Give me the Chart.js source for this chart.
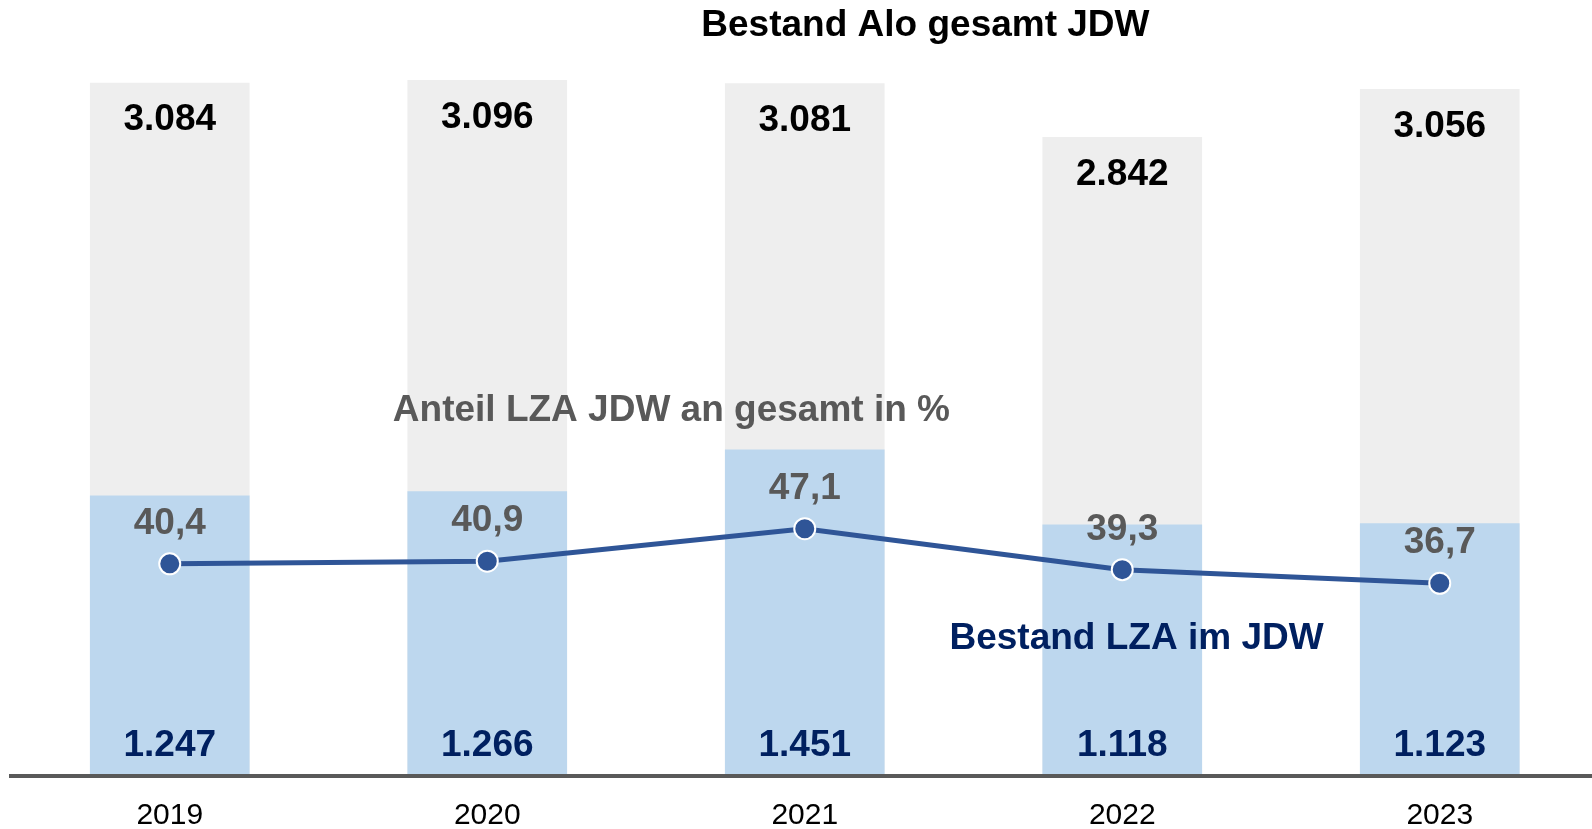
<!DOCTYPE html>
<html>
<head>
<meta charset="utf-8">
<title>Bestand Alo gesamt JDW</title>
<script src="https://cdn.jsdelivr.net/npm/chart.js@4.4.1/dist/chart.umd.min.js"></script>
<style>
    html, body { margin: 0; padding: 0; background: #fff; overflow: hidden; }
    #wrap { position: relative; width: 1592px; height: 829px; }
</style>
</head>
<body>
<div id="wrap"><canvas id="chart"></canvas></div>
<script>
// Bestand Alo gesamt vs. LZA, JDW 2019-2023

const years = ['2019', '2020', '2021', '2022', '2023'];
const totalAlo = [3084, 3096, 3081, 2842, 3056];
const lzaAlo = [1247, 1266, 1451, 1118, 1123];
const lzaShare = [40.4, 40.9, 47.1, 39.3, 36.7];

const FONT = "'Liberation Sans', Arial, Helvetica, sans-serif";
const GREY_BAR = '#EEEEEE';
const BLUE_BAR = '#BDD7EE';
const LINE_BLUE = '#2F5597';
const NAVY = '#002060';
const DARK_GREY = '#595959';

// German number formatting (3.084 / 40,4)
function fmtInt(v) {
    return String(v).replace(/\B(?=(\d{3})+(?!\d))/g, '.');
}
function fmtPct(v) {
    return v.toFixed(1).replace('.', ',');
}

function xy(values) {
    return values.map((v, i) => ({ x: i, y: v }));
}

// value labels on bars and line points
const valueLabels = {
    id: 'valueLabels',
    afterDatasetsDraw(chart) {
        const ctx = chart.ctx;
        const area = chart.chartArea;
        ctx.save();
        ctx.textAlign = 'center';
        ctx.textBaseline = 'middle';
        ctx.font = `bold 37px ${FONT}`;

        chart.getDatasetMeta(2).data.forEach((bar, i) => {
            ctx.fillStyle = '#000';
            ctx.fillText(fmtInt(totalAlo[i]), bar.x, bar.y + 37);
        });
        chart.getDatasetMeta(1).data.forEach((bar, i) => {
            ctx.fillStyle = NAVY;
            ctx.fillText(fmtInt(lzaAlo[i]), bar.x, area.bottom - 30);
        });
        chart.getDatasetMeta(0).data.forEach((pt, i) => {
            ctx.fillStyle = DARK_GREY;
            ctx.fillText(fmtPct(lzaShare[i]), pt.x, pt.y - 40);
        });
        ctx.restore();
    }
};

// title and series captions
const captions = {
    id: 'captions',
    afterDraw(chart) {
        const ctx = chart.ctx;
        const xs = chart.scales.x;
        ctx.save();
        ctx.textAlign = 'center';
        ctx.textBaseline = 'middle';

        ctx.font = `bold 37px ${FONT}`;
        ctx.fillStyle = '#000';
        ctx.fillText('Bestand Alo gesamt JDW', xs.getPixelForValue(2.38), 26);

        ctx.fillStyle = DARK_GREY;
        ctx.fillText('Anteil LZA JDW an gesamt in %', xs.getPixelForValue(1.58), 411);

        ctx.fillStyle = NAVY;
        ctx.fillText('Bestand LZA im JDW', xs.getPixelForValue(3.045), 639);
        ctx.restore();
    }
};

const ctx = document.getElementById('chart').getContext('2d');
const chart = new Chart(ctx, {
    data: {
        datasets: [
            {
                type: 'line',
                label: 'Anteil LZA JDW an gesamt in %',
                data: xy(lzaShare),
                yAxisID: 'pct',
                borderColor: LINE_BLUE,
                borderWidth: 5,
                pointRadius: 10.5,
                pointBackgroundColor: LINE_BLUE,
                pointBorderColor: '#fff',
                pointBorderWidth: 2,
                tension: 0,
                order: 0
            },
            {
                type: 'bar',
                label: 'Bestand LZA im JDW',
                data: xy(lzaAlo),
                backgroundColor: BLUE_BAR,
                grouped: false,
                barThickness: 159,
                order: 1
            },
            {
                type: 'bar',
                label: 'Bestand Alo gesamt JDW',
                data: xy(totalAlo),
                backgroundColor: GREY_BAR,
                grouped: false,
                barThickness: 159,
                order: 2
            }
        ]
    },
    options: {
        animation: false,
        responsive: true,
        maintainAspectRatio: false,
        layout: {
            autoPadding: false,
            padding: { top: 12, left: 11, right: 0, bottom: 0 }
        },
        plugins: {
            legend: { display: false },
            title: { display: false },
            tooltip: { enabled: false }
        },
        scales: {
            x: {
                type: 'linear',
                offset: false,
                bounds: 'data',
                min: -0.5,
                max: 4.4795,
                afterBuildTicks: axis => {
                    axis.ticks = years.map((_, i) => ({ value: i }));
                },
                afterFit: axis => {
                    axis.height = 53;
                },
                grid: { display: false, drawTicks: false, offset: false },
                border: { display: true, color: DARK_GREY, width: 4, z: 1 },
                ticks: {
                    color: '#000',
                    padding: 25,
                    maxRotation: 0,
                    autoSkip: false,
                    font: { family: FONT, size: 30, lineHeight: 1 },
                    callback: value => years[value] ?? ''
                }
            },
            y: {
                display: false,
                min: 0,
                max: 3400
            },
            pct: {
                display: false,
                position: 'right',
                min: 0,
                max: 145.5
            }
        }
    },
    plugins: [valueLabels, captions]
});
</script>
</body>
</html>
